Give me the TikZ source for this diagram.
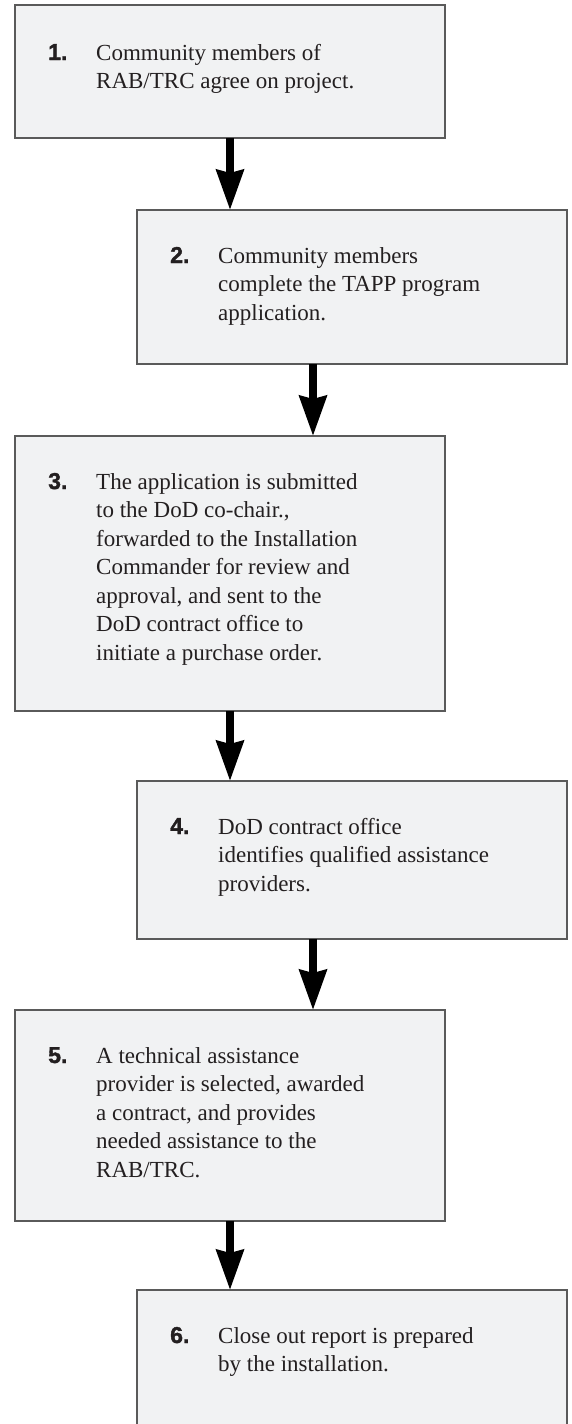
\documentclass[tikz,border=0pt]{standalone}
\usepackage{fontspec}
\setmainfont{Liberation Serif}
\newfontfamily\numfont[BoldFeatures={FakeBold=1.6}]{Liberation Sans}
\usetikzlibrary{arrows.meta}

\definecolor{boxfill}{HTML}{F1F2F3}
\definecolor{boxline}{HTML}{5A5A5A}
\definecolor{ink}{HTML}{231F20}

% stacked lines of a step description; baseline = first line
\newcommand\steplines[1]{\vtop{#1}}
\newcommand\sline[1]{\hbox{#1}}

\tikzset{
  stepbox/.style={rectangle, draw=boxline, line width=1.3pt, fill=boxfill,
    anchor=north west, minimum width=430pt, inner sep=0pt, outer sep=0pt},
  stepnum/.style={anchor=base west, inner sep=0pt, text=ink,
    font=\numfont\bfseries\fontsize{23}{23}\selectfont},
  steptext/.style={anchor=base west, inner sep=0pt, text=ink,
    font=\fontsize{23}{28.5}\selectfont},
  flow/.style={draw=black, line width=7.5pt,
    -{Stealth[length=40pt, width=27pt, inset=3pt]}}
}

\begin{document}
\begin{tikzpicture}[x=1pt, y=1pt]
  \useasboundingbox (0,0) rectangle (572,-1424);
  \fill[white] (0,0) rectangle (572,-1424);

  % step boxes
  \node[stepbox, minimum height=133pt] (b1) at (15,-5) {};
  \node[stepbox, minimum height=154pt] (b2) at (137,-210) {};
  \node[stepbox, minimum height=275pt] (b3) at (15,-436) {};
  \node[stepbox, minimum height=158pt] (b4) at (137,-781) {};
  \node[stepbox, minimum height=211pt] (b5) at (15,-1010) {};
  \node[stepbox, minimum height=170pt] (b6) at (137,-1290) {};

  % step numbers
  \node[stepnum] (n1) at ([shift={(33,-55)}]b1.north west) {1.};
  \node[stepnum] (n2) at ([shift={(33,-53)}]b2.north west) {2.};
  \node[stepnum] (n3) at ([shift={(33,-53)}]b3.north west) {3.};
  \node[stepnum] (n4) at ([shift={(33,-53)}]b4.north west) {4.};
  \node[stepnum] (n5) at ([shift={(33,-53)}]b5.north west) {5.};
  \node[stepnum] (n6) at ([shift={(33,-53)}]b6.north west) {6.};

  % step descriptions
  \node[steptext] (t1) at ([shift={(81,-55)}]b1.north west) {\steplines{%
    \sline{Community members of}
    \sline{RAB/TRC agree on project.}}};
  \node[steptext] (t2) at ([shift={(81,-53)}]b2.north west) {\steplines{%
    \sline{Community members}
    \sline{complete the TAPP program}
    \sline{application.}}};
  \node[steptext] (t3) at ([shift={(81,-53)}]b3.north west) {\steplines{%
    \sline{The application is submitted}
    \sline{to the DoD co-chair.,}
    \sline{forwarded to the Installation}
    \sline{Commander for review and}
    \sline{approval, and sent to the}
    \sline{DoD contract office to}
    \sline{initiate a purchase order.}}};
  \node[steptext] (t4) at ([shift={(81,-53)}]b4.north west) {\steplines{%
    \sline{DoD contract office}
    \sline{identifies qualified assistance}
    \sline{providers.}}};
  \node[steptext] (t5) at ([shift={(81,-53)}]b5.north west) {\steplines{%
    \sline{A technical assistance}
    \sline{provider is selected, awarded}
    \sline{a contract, and provides}
    \sline{needed assistance to the}
    \sline{RAB/TRC.}}};
  \node[steptext] (t6) at ([shift={(81,-53)}]b6.north west) {\steplines{%
    \sline{Close out report is prepared}
    \sline{by the installation.}}};

  % connectors
  \draw[flow] (b1.south) -- (b1.south |- b2.north);
  \draw[flow] ([xshift=176pt]b2.south west) -- ([xshift=176pt]b2.south west |- b3.north);
  \draw[flow] (b3.south) -- (b3.south |- b4.north);
  \draw[flow] ([xshift=176pt]b4.south west) -- ([xshift=176pt]b4.south west |- b5.north);
  \draw[flow] (b5.south) -- (b5.south |- b6.north);
\end{tikzpicture}
\end{document}
